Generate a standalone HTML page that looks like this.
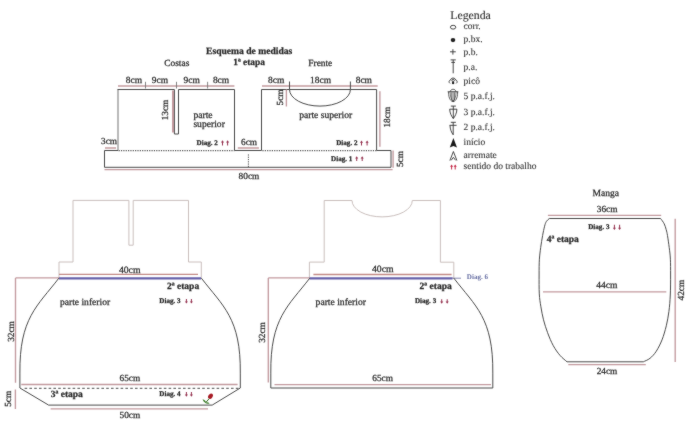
<!DOCTYPE html>
<html><head><meta charset="utf-8">
<style>
html,body{margin:0;padding:0;background:#fff;}
svg{display:block;}
#w{width:690px;height:424px;}
text{font-family:"Liberation Serif",serif;fill:#2a2a2a;stroke:#2a2a2a;stroke-width:0.25px;text-rendering:geometricPrecision;}
.dk{stroke:#4a4a4a;stroke-width:1;fill:none;}
.lt{stroke:#cabfbd;stroke-width:1;fill:none;}
.rd{stroke:#c39a9f;stroke-width:1.35;fill:none;}
</style></head><body>
<div id="w"><svg width="690" height="424" viewBox="0 0 690 424">
<defs><filter id="bl" x="0" y="0" width="690" height="424" filterUnits="userSpaceOnUse" color-interpolation-filters="sRGB"><feConvolveMatrix order="3" kernelMatrix="1 2 1 2 28 2 1 2 1" divisor="40" edgeMode="duplicate"/></filter></defs>
<g filter="url(#bl)"><rect width="690" height="424" fill="#fff"/>
<text x="206" y="53.5" style="font-size:9.6px;font-weight:bold">Esquema de medidas</text>
<text x="233.2" y="65" style="font-size:9.4px;font-weight:bold">1ª etapa</text>
<text x="164.2" y="66.2" style="font-size:9.45px">Costas</text>
<text x="308.3" y="66.2" style="font-size:9.4px">Frente</text>
<path class="rd" d="M118,86H234.4M262,86H377.7"/>
<path d="M145.5,81.8V88.5M176.5,81.8V88.5M207.6,81.8V88.5" stroke="#777" stroke-width="0.9"/>
<text x="125.8" y="82.6" style="font-size:9.45px">8cm</text>
<text x="151.8" y="82.6" style="font-size:9.45px">9cm</text>
<text x="183.6" y="82.6" style="font-size:9.45px">9cm</text>
<text x="212.9" y="82.6" style="font-size:9.45px">8cm</text>
<text x="268.1" y="82.6" style="font-size:9.45px">8cm</text>
<text x="310" y="82.6" style="font-size:9.45px">18cm</text>
<text x="355.7" y="82.6" style="font-size:9.45px">8cm</text>
<path class="dk" d="M118,150.5V89.5" style="stroke:#8a8a8a;stroke-width:1.2"/>
<path class="dk" d="M117.5,89.5H174.4V134H178.5V89.5H234.5V150.5"/>
<path class="rd" d="M173,90.6V132.4" style="stroke-width:2"/>
<text transform="translate(168.2,110) rotate(-90)" text-anchor="middle" style="font-size:9.3px">13cm</text>
<text x="193.4" y="118.1" style="font-size:9.6px">parte</text>
<text x="193.4" y="126.8" style="font-size:9.6px">superior</text>
<text x="196.6" y="144.7" style="font-size:7.1px;font-weight:bold">Diag. 2</text>
<path d="M222.5,140.2l-1.55,2.2h1.05V145.5h1V142.39999999999998h1.05z" fill="#963350"/>
<path d="M227.6,140.2l-1.55,2.2h1.05V145.5h1V142.39999999999998h1.05z" fill="#963350"/>
<path class="dk" d="M261.5,150.5V89.5H289.5A30.45,16.6 0 0 0 350.4,89.5H376.6V150.5"/>
<path class="dk" d="M289.5,81.5V89.5M350.4,81.5V89.5M289.5,89.5H350.4"/>
<path class="rd" d="M286.4,89.5V106.5"/>
<text transform="translate(282.8,97.5) rotate(-90)" text-anchor="middle" style="font-size:9.3px">5cm</text>
<text x="299.2" y="117.5" style="font-size:9.6px">parte superior</text>
<path class="rd" d="M379.9,91.3V146.8"/>
<text transform="translate(389.8,117.2) rotate(-90)" text-anchor="middle" style="font-size:9.3px">18cm</text>
<text x="336.2" y="144.8" style="font-size:7.1px;font-weight:bold">Diag. 2</text>
<path d="M361.5,140.6l-1.55,2.2h1.05V145.5h1V142.79999999999998h1.05z" fill="#963350"/>
<path d="M367.1,140.6l-1.55,2.2h1.05V145.5h1V142.79999999999998h1.05z" fill="#963350"/>
<path class="dk" d="M104.5,150.5V167.3H391V150.5H376.6M234.5,150.5H261.5M104.5,150.5H118"/>
<path d="M118.6,150.6H234.5M262.4,150.6H376.6" stroke="#555" stroke-width="1.05" style="stroke-dasharray:1.2 1.15"/>
<path class="dk" d="M248.4,154.4V167" style="stroke-dasharray:1.2 1.07"/>
<path class="rd" d="M104.5,169.6H392.6"/>
<path class="rd" d="M105,148H116M237.8,148H258.9"/>
<path class="rd" d="M393.1,150.4V167.8"/>
<text x="101" y="144.3" style="font-size:9.3px">3cm</text>
<text x="241" y="145" style="font-size:9.3px">6cm</text>
<text x="238.6" y="179.4" style="font-size:9.3px">80cm</text>
<text transform="translate(403.2,159.1) rotate(-90)" text-anchor="middle" style="font-size:9.3px">5cm</text>
<text x="331.1" y="160.8" style="font-size:7.1px;font-weight:bold">Diag. 1</text>
<path d="M356.7,156.2l-1.55,2.2h1.05V161.1h1V158.39999999999998h1.05z" fill="#963350"/>
<path d="M362.2,156.2l-1.55,2.2h1.05V161.1h1V158.39999999999998h1.05z" fill="#963350"/>
<text x="450.2" y="18.5" style="font-size:11.8px;stroke-width:0.12px;fill:#333">Legenda</text>
<text x="463.6" y="29.4" style="font-size:9.5px;stroke-width:0.1px;fill:#333">corr.</text>
<text x="463.6" y="41.8" style="font-size:9.5px;stroke-width:0.1px;fill:#333">p.bx.</text>
<text x="463.6" y="54.5" style="font-size:9.5px;stroke-width:0.1px;fill:#333">p.b.</text>
<text x="463.6" y="69.8" style="font-size:9.5px;stroke-width:0.1px;fill:#333">p.a.</text>
<text x="463.6" y="83.5" style="font-size:9.5px;stroke-width:0.1px;fill:#333">picô</text>
<text x="463.6" y="98.9" style="font-size:9.5px;stroke-width:0.1px;fill:#333">5 p.a.f.j.</text>
<text x="463.6" y="115.4" style="font-size:9.5px;stroke-width:0.1px;fill:#333">3 p.a.f.j.</text>
<text x="463.6" y="130.2" style="font-size:9.5px;stroke-width:0.1px;fill:#333">2 p.a.f.j.</text>
<text x="463.6" y="144.8" style="font-size:9.5px;stroke-width:0.1px;fill:#333">início</text>
<text x="463.6" y="158.2" style="font-size:9.5px;stroke-width:0.1px;fill:#333">arremate</text>
<text x="463.6" y="168.6" style="font-size:9.5px;stroke-width:0.1px;fill:#333">sentido do trabalho</text>
<ellipse cx="453.1" cy="27.2" rx="2.7" ry="1.9" fill="none" stroke="#333" stroke-width="0.9"/>
<ellipse cx="453" cy="40.1" rx="2.3" ry="2.1" fill="#222"/>
<path d="M450,51.8H455.8M452.9,49.2V54.6" stroke="#333" stroke-width="0.9"/>
<path d="M450.6,59.9H455.8M453.2,59.9V73.3M451.3,62.4H455" stroke="#333" stroke-width="0.9" fill="none"/>
<g fill="none" stroke="#333" stroke-width="0.9">
<path d="M450,83.4C448.6,82.6 448.8,80.2 450.6,80C450.6,77.4 455.6,77.4 455.6,80C457.4,80.2 457.6,82.6 456.2,83.4"/>
<circle cx="453.1" cy="80.4" r="1.2"/>
</g>
<circle cx="453.1" cy="83" r="1.2" fill="#222"/>
<g fill="none" stroke="#333" stroke-width="0.8">
<path d="M450.4,91.6C450.4,88.5 455.8,88.5 455.8,91.6"/>
<path d="M447.7,91.8H458.3" stroke-width="1"/>
<path d="M448.6,92C448.4,99 451.3,101.6 453.1,101.6C454.9,101.6 457.8,99 457.6,92"/>
<path d="M450.2,92.4C450.1,96 451.3,99.2 452.4,100.6M451.7,92.4V100M453.1,92.4V101.3M454.5,92.4V100M456,92.4C456.1,96 454.9,99.2 453.8,100.6" stroke-width="0.65"/>
</g>
<path d="M451.7,100.4L453.1,101.9L454.5,100.4Z" fill="#222"/>
<path d="M450.8,106.1H455.9M449.6,109.2H457M453.3,106.1V118.5M449.7,109.2C449.7,113 451.8,116.8 453.3,118.5C454.8,116.8 456.9,113 456.9,109.2" fill="none" stroke="#333" stroke-width="0.9"/>
<path d="M450.8,122.3H455.9M449.6,125.3H456.6M453.2,122.3V134.8M450,125.3C450,129 451.6,132.8 453.2,134.8" fill="none" stroke="#333" stroke-width="0.9"/>
<path d="M453.4,138L449.8,147.5L453.4,146.1L457,147.5Z" fill="#1a1a1a"/>
<path d="M453.4,151.5L449.9,160.5M453.4,151.5L456.9,160.5M451.2,160.3L453.4,157.3L455.6,160.3" fill="none" stroke="#333" stroke-width="0.9"/>
<path d="M451.6,164.5l-1.55,2.2h1.05V169.4h1V166.7h1.05z" fill="#c42a48"/>
<path d="M455.2,164.5l-1.55,2.2h1.05V169.4h1V166.7h1.05z" fill="#c42a48"/>
<path class="lt" d="M59,278V262H73V200.4H128.9V245.2H133.2V200.4H188.5V262H201.3V278"/>
<path class="rd" d="M59,274.4H198" style="stroke:#c38a86"/>
<path class="rd" d="M15.5,277.9H59M15.5,277.9V382.8M15.4,389.5V409"/>
<path d="M59,278.4H201" stroke="#6660aa" stroke-width="2.2"/>
<path class="dk" d="M58.9,278.1C37.4,306.1 19.3,318.1 19.9,373.1V388.0L48.6,405.1H212.2L240.3,388V373.1C240.9,318.1 222.8,306.1 201.3,278.1"/>
<path class="dk" d="M24.6,388.3H239.5" style="stroke-dasharray:2.6 2.2"/>
<path class="rd" d="M21.3,384.5H237.6M50.6,408.8H208"/>
<text x="118.9" y="272.5" style="font-size:9.7px">40cm</text>
<text x="167" y="289.1" style="font-size:9.5px;font-weight:bold">2ª etapa</text>
<text x="60" y="305" style="font-size:9.55px">parte inferior</text>
<text x="159.3" y="303.1" style="font-size:7.1px;font-weight:bold">Diag. 3</text>
<path d="M186.4,303.6l-1.55,-2.1149999999999998h1.05V299.1h1V301.485h1.05z" fill="#963350"/>
<path d="M191.4,303.6l-1.55,-2.1149999999999998h1.05V299.1h1V301.485h1.05z" fill="#963350"/>
<text x="119.5" y="380.7" style="font-size:9.3px">65cm</text>
<text x="50.7" y="396.8" style="font-size:9.5px;font-weight:bold">3ª etapa</text>
<text x="159.3" y="396.3" style="font-size:7.1px;font-weight:bold">Diag. 4</text>
<path d="M186.4,396.8l-1.55,-2.2h1.05V391.9h1V394.6h1.05z" fill="#963350"/>
<path d="M191.4,396.8l-1.55,-2.2h1.05V391.9h1V394.6h1.05z" fill="#963350"/>
<text x="119.5" y="417.9" style="font-size:9.3px">50cm</text>
<text transform="translate(13.6,331.5) rotate(-90)" text-anchor="middle" style="font-size:9.3px">32cm</text>
<text transform="translate(11,398.8) rotate(-90)" text-anchor="middle" style="font-size:9.3px">5cm</text>
<ellipse cx="210.5" cy="396.2" rx="2.1" ry="2.9" fill="#a81c26" transform="rotate(35 210.5 396.2)"/>
<path d="M209.2,398.6 L205.6,402.8" stroke="#2f6a22" stroke-width="1"/>
<path d="M202.6,399.2 C204.6,399.6 205.8,400.8 206.3,402.8 C204.3,402.4 203.1,401.2 202.6,399.2Z M209.6,403.2 C208,401.9 206.5,402 205.3,403 C207,404 208.4,403.9 209.6,403.2Z" fill="#3f7f2c"/>
<path class="lt" d="M309.4,278V262.1H324.2V200.5H352A30.15,16.4 0 0 0 412.3,200.5H440.4V262.2H453.8V278"/>
<path class="rd" d="M313.4,274.5H451.6" style="stroke:#c38a86"/>
<path class="rd" d="M268.3,277.9H309.4M268.3,277.9V382.5M274.5,384.6H491"/>
<path d="M309.5,278.4H452.5" stroke="#6660aa" stroke-width="2.2"/>
<path d="M452,278.2H461" stroke="#7a7aa8" stroke-width="0.9"/>
<path class="dk" d="M309.8,278.1C288.3,306.1 270.2,318.1 270.8,373.1V388.0H492.8V373.1C493.4,318.1 475.3,306.1 453.8,278.1"/>
<text x="372" y="271.6" style="font-size:9.7px">40cm</text>
<text x="466.8" y="279.2" style="font-size:7.1px;font-weight:bold;fill:#6870a4;stroke:#6870a4;stroke:none">Diag. 6</text>
<text x="419.6" y="288.9" style="font-size:9.5px;font-weight:bold">2ª etapa</text>
<text x="315.6" y="304.6" style="font-size:9.6px">parte inferior</text>
<text x="414.9" y="303.1" style="font-size:7.1px;font-weight:bold">Diag. 3</text>
<path d="M441.7,303.7l-1.55,-2.1149999999999998h1.05V299.2h1V301.585h1.05z" fill="#963350"/>
<path d="M447.2,303.7l-1.55,-2.1149999999999998h1.05V299.2h1V301.585h1.05z" fill="#963350"/>
<text x="372.3" y="380.6" style="font-size:9.3px">65cm</text>
<text transform="translate(265,332.5) rotate(-90)" text-anchor="middle" style="font-size:9.3px">32cm</text>
<text x="592.5" y="195.5" style="font-size:9.5px">Manga</text>
<text x="596.8" y="212" style="font-size:9.3px">36cm</text>
<path class="rd" d="M547.9,215.4H661.2M543,291.8H666.3M568.3,364.6H645.8M675.2,218.8V362"/>
<path class="dk" d="M549.3,218.5C548.8,219.0 547.2,220.1 546.4,221.4C545.6,222.7 545.2,223.8 544.6,226.2C544.0,228.6 543.2,232.1 542.6,235.6C542.0,239.1 541.2,243.5 540.7,247.4C540.2,251.3 539.7,254.6 539.4,259.2C539.1,263.8 539.1,269.2 539.1,275.0C539.1,280.8 539.0,288.6 539.3,293.9C539.6,299.2 540.2,302.5 540.9,306.8C541.6,311.1 542.4,315.5 543.5,319.8C544.6,324.1 546.0,328.4 547.6,332.7C549.2,337.0 551.2,341.9 553.3,345.7C555.4,349.5 557.7,352.7 560.0,355.4C562.3,358.1 565.8,360.7 567.0,361.8H643.3C644.4,361.2 647.8,360.1 650.0,358.3C652.2,356.5 654.3,354.3 656.3,351.2C658.3,348.1 660.3,344.1 662.0,339.9C663.7,335.7 665.1,330.5 666.3,325.8C667.4,321.1 668.2,316.7 668.9,311.6C669.6,306.5 670.0,301.1 670.3,295.0C670.6,288.9 670.6,281.0 670.6,275.0C670.6,269.0 670.6,263.8 670.4,259.2C670.2,254.6 669.7,251.3 669.2,247.4C668.7,243.5 668.0,238.6 667.5,235.6C667.0,232.6 666.8,231.7 666.2,229.7C665.7,227.7 665.1,225.7 664.2,223.8C663.3,221.9 661.2,219.4 660.6,218.5Z"/>
<text x="596.3" y="288" style="font-size:9.5px">44cm</text>
<text x="596.7" y="374.1" style="font-size:9.3px">24cm</text>
<text transform="translate(684.2,290.1) rotate(-90)" text-anchor="middle" style="font-size:9.3px">42cm</text>
<text x="588.2" y="228.9" style="font-size:7.1px;font-weight:bold">Diag. 3</text>
<path d="M614.4,229.9l-1.55,-2.2h1.05V224.7h1V227.70000000000002h1.05z" fill="#963350"/>
<path d="M619.6,229.9l-1.55,-2.2h1.05V224.7h1V227.70000000000002h1.05z" fill="#963350"/>
<text x="546.7" y="241.5" style="font-size:9.5px;font-weight:bold">4ª etapa</text>
</g></svg></div>
</body></html>
